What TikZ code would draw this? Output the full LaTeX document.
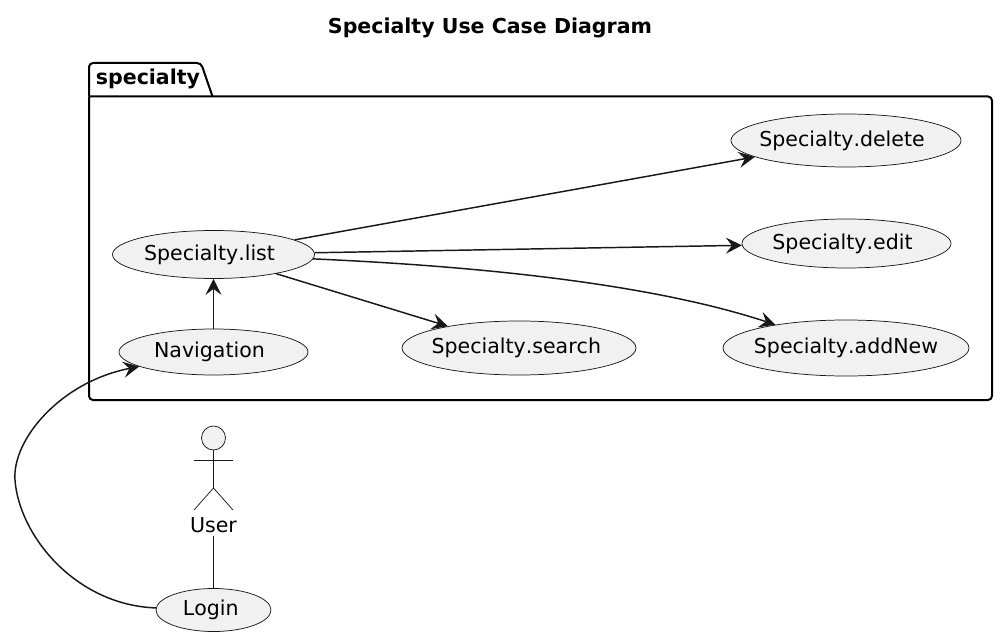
\documentclass[tikz,border=0pt]{standalone}
\usepackage{fontspec}
\setmainfont{DejaVu Sans}[Kerning=Off]
\usetikzlibrary{shapes.geometric}
\usetikzlibrary{arrows.meta}
\definecolor{linecol}{RGB}{24,24,24}
\definecolor{casefill}{RGB}{241,241,241}
\def\px{0.75pt}
\tikzset{
  usecase/.style={ellipse,draw=linecol,fill=casefill,line width=0.55pt,inner sep=-16pt,font=\fontsize{15.4pt}{18pt}\selectfont},
  assoc/.style={draw=linecol,line width=1.1pt},
  openarrow/.style={assoc,-{Stealth[length=12pt,width=12pt,inset=4.5pt]}},
  actorline/.style={draw=linecol,line width=0.55pt}
}
\begin{document}
\begin{tikzpicture}[x=\px,y=-\px]
  \useasboundingbox (0,0) rectangle (1000,638);
  \node[font=\bfseries\fontsize{15.4pt}{18pt}\selectfont,inner sep=0pt] (title) at (490,28) {Specialty Use Case Diagram};
  % package frame
  \draw[black,line width=1.5pt,rounded corners=3pt] (89,96.5)--(89,63)--(201,63)--(212.5,96.5);
  \draw[black,line width=1.5pt,rounded corners=3pt] (89,96.5)--(89,400)--(992,400)--(992,96.5)--(89,96.5);
  \node[font=\bfseries\fontsize{15.4pt}{18pt}\selectfont,inner sep=0pt] (pkg) at (148,79) {specialty};
  % use cases
  \node[usecase,minimum width=202*\px,minimum height=48*\px] (list) at (213.5,254.5) {Specialty.list\hspace*{6pt}};
  \node[usecase,minimum width=189*\px,minimum height=46*\px] (nav) at (213.5,352) {Navigation\hspace*{6pt}};
  \node[usecase,minimum width=234*\px,minimum height=54*\px] (search) at (519,348) {Specialty.search\hspace*{4pt}};
  \node[usecase,minimum width=230*\px,minimum height=53*\px] (delete) at (846,140.5) {Specialty.delete\hspace*{6pt}};
  \node[usecase,minimum width=209*\px,minimum height=49*\px] (edit) at (846.5,243.5) {Specialty.edit\hspace*{6pt}};
  \node[usecase,minimum width=246*\px,minimum height=56*\px] (addnew) at (846,348) {Specialty.addNew};
  \node[usecase,minimum width=115*\px,minimum height=43*\px] (login) at (213.5,610) {Login\hspace*{4pt}};
  % actor
  \node[circle,draw=linecol,fill=casefill,line width=0.55pt,inner sep=0pt,minimum size=24*\px] (head) at (213.5,438) {};
  \coordinate (hip) at (213.5,488);
  \draw[actorline] (head)--(hip);
  \draw[actorline] (194,460)--(233,460);
  \draw[actorline] (194,510)--(hip)--(233,510);
  \node[font=\fontsize{15.4pt}{18pt}\selectfont,inner sep=2pt] (user) at (213.5,525) {User};
  % connectors
  \draw[openarrow] (nav)--(list);
  \draw[openarrow] (list)--(delete);
  \draw[openarrow] (list)--(edit);
  \draw[openarrow] (list)--(search);
  \draw[openarrow] (list) .. controls (520,268) and (670,290) .. (addnew);
  \draw[assoc] (user)--(login);
  \coordinate (bend) at (15,480);
  \draw[openarrow] (login) .. controls (75,605) and (19,535) .. (bend) .. controls (12,440) and (60,382) .. (nav);
\end{tikzpicture}
\end{document}
